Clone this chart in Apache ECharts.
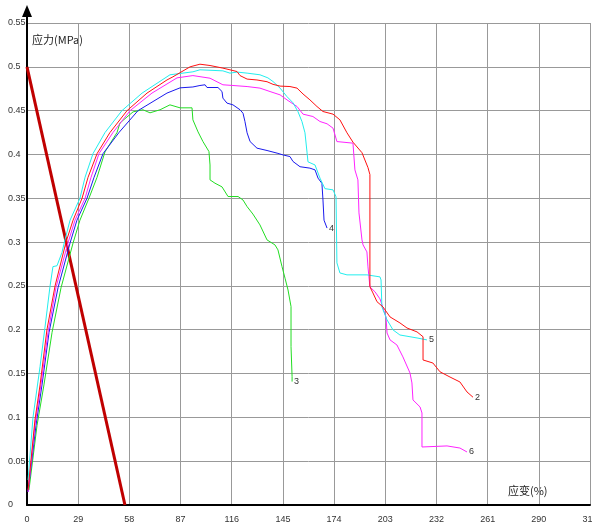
<!DOCTYPE html>
<html>
<head>
<meta charset="utf-8">
<script src="https://cdn.jsdelivr.net/npm/echarts@6/dist/echarts.min.js"></script>
<style>
html,body{margin:0;padding:0;background:#fff;}
#chart{width:592px;height:524px;}
</style>
</head>
<body>
<div id="chart"></div>
<script>
// 应力-应变 曲线
var xTicks = [0, 29, 58, 87, 116, 145, 174, 203, 232, 261, 290, 319];

var lineX = [0, 55.5];
var lineY = [0.5, 0];

var c2x = [0.6, 4.5, 7.4, 11.3, 15.9, 22.1, 26.1, 31.2, 34.6, 39.7, 47, 56.7, 68, 79.3, 82.7, 92.4, 98, 103.7, 111, 115, 119, 120.7, 124.7, 130.3, 136, 139.4, 143.4, 149, 153, 156.4, 160.3, 164.3, 167.7, 173.4, 177.3, 181.3, 184.7, 189.8, 193.2, 194.3, 194.3, 196, 198.3, 201.7, 205.7, 211.3, 215.3, 221, 224.4, 224.4, 230, 234, 239.7, 245.3, 249.3, 252.7];
var c2y = [0.017, 0.097, 0.137, 0.2, 0.25, 0.3, 0.325, 0.35, 0.374, 0.401, 0.425, 0.45, 0.47, 0.485, 0.4886, 0.5, 0.503, 0.5015, 0.4985, 0.4966, 0.4946, 0.49, 0.486, 0.485, 0.483, 0.48, 0.478, 0.4775, 0.4757, 0.469, 0.4623, 0.4547, 0.449, 0.446, 0.4395, 0.4247, 0.414, 0.402, 0.385, 0.377, 0.249, 0.242, 0.232, 0.226, 0.2146, 0.2078, 0.202, 0.1975, 0.192, 0.1655, 0.162, 0.152, 0.146, 0.1404, 0.129, 0.123];

var c3x = [1.1, 5.7, 9.6, 14.2, 19.3, 26.1, 30, 35.1, 39.7, 44.2, 51, 52.7, 60.1, 65.7, 69.7, 75.4, 81, 86.7, 93.5, 94, 96.9, 99.7, 103.1, 103.7, 103.7, 106.5, 110.5, 113.9, 119.6, 122.4, 124.7, 128, 132, 136, 140.5, 142.2, 144.5, 146.2, 147.9, 149.6, 149.6, 150.2, 150.2];
var c3y = [0.017, 0.091, 0.137, 0.197, 0.248, 0.299, 0.325, 0.35, 0.374, 0.403, 0.425, 0.436, 0.4486, 0.451, 0.4475, 0.451, 0.4566, 0.4532, 0.4532, 0.4395, 0.4258, 0.4147, 0.4033, 0.388, 0.371, 0.3672, 0.363, 0.352, 0.352, 0.348, 0.3405, 0.332, 0.3196, 0.3025, 0.2968, 0.2911, 0.272, 0.2588, 0.2454, 0.2264, 0.1807, 0.1465, 0.1408];

var c4x = [0.6, 5.1, 8.5, 12.5, 17.6, 24.4, 28.3, 34, 38, 43.1, 52.1, 62.9, 79.3, 86.7, 94, 98, 100.9, 102, 108.2, 110.5, 111, 113.3, 116.7, 120.7, 122.4, 123.5, 124.7, 126.4, 130.3, 136, 141.7, 145, 149, 150.7, 154.7, 160.3, 163.2, 164.9, 167.1, 167.7, 168.3, 170];
var c4y = [0.015, 0.091, 0.137, 0.197, 0.248, 0.299, 0.325, 0.35, 0.374, 0.401, 0.425, 0.45, 0.47, 0.476, 0.477, 0.4787, 0.4795, 0.4764, 0.4764, 0.4718, 0.4643, 0.4586, 0.4566, 0.451, 0.447, 0.4375, 0.4247, 0.4147, 0.4072, 0.4045, 0.4015, 0.3995, 0.3976, 0.392, 0.386, 0.3844, 0.3824, 0.373, 0.367, 0.348, 0.325, 0.316];

var c5x = [0.6, 3.4, 7.4, 10.2, 13, 14.7, 17, 19.8, 21.5, 24.4, 30, 32.9, 37.4, 44.2, 53.8, 65.2, 81, 94, 98, 111, 115, 119, 124.7, 132, 136.5, 139.4, 143.4, 147.3, 150.7, 153.5, 155.8, 157.5, 158.7, 159.2, 163.2, 166, 168.8, 173.4, 175.1, 175.6, 177.3, 181.3, 192.6, 200, 200.6, 201.1, 204, 207.4, 211.3, 221, 226.6];
var c5y = [0.0285, 0.1, 0.158, 0.203, 0.249, 0.272, 0.273, 0.288, 0.3025, 0.325, 0.35, 0.374, 0.401, 0.425, 0.45, 0.47, 0.4909, 0.4943, 0.4966, 0.4954, 0.4928, 0.494, 0.4928, 0.4909, 0.4874, 0.4832, 0.4757, 0.466, 0.459, 0.449, 0.4375, 0.4247, 0.4018, 0.3916, 0.388, 0.373, 0.361, 0.3596, 0.3516, 0.2763, 0.2648, 0.2626, 0.2626, 0.2603, 0.2568, 0.226, 0.2112, 0.1998, 0.194, 0.1906, 0.1884];

var c6x = [0.6, 4.5, 7.9, 11.9, 16.4, 23.2, 27.2, 32.9, 36.3, 40.8, 48.7, 58.4, 70.8, 85, 94, 103.7, 111, 116.7, 124.7, 132, 137.7, 143.4, 147.3, 153, 156.4, 162, 166, 170, 173.4, 175.6, 184.7, 185.8, 187.5, 188.1, 189.8, 190.4, 192.6, 193.2, 194.3, 197.2, 200, 201.7, 203.4, 204, 205.7, 209.6, 213, 217, 218.1, 218.7, 222.7, 223.8, 223.8, 238, 245.3, 249.3];
var c6y = [0.015, 0.091, 0.137, 0.197, 0.248, 0.299, 0.325, 0.35, 0.374, 0.401, 0.425, 0.45, 0.47, 0.4874, 0.49, 0.487, 0.4795, 0.4787, 0.4775, 0.4757, 0.4718, 0.468, 0.4623, 0.4547, 0.446, 0.4433, 0.4376, 0.435, 0.43, 0.4147, 0.4129, 0.3824, 0.371, 0.3333, 0.3025, 0.2968, 0.2888, 0.2717, 0.2489, 0.2432, 0.2352, 0.2249, 0.2146, 0.1963, 0.1884, 0.1826, 0.169, 0.1507, 0.1393, 0.1199, 0.1119, 0.105, 0.0662, 0.0674, 0.065, 0.0605];

function zip(xs, ys) {
    var out = [];
    for (var i = 0; i < xs.length; i++) out.push([xs[i], ys[i]]);
    return out;
}

function curve(name, xs, ys, color) {
    return {
        name: name,
        type: 'line',
        data: zip(xs, ys),
        symbol: 'none',
        lineStyle: { color: color, width: 1 },
        endLabel: {
            show: true,
            formatter: name,
            color: '#333',
            fontSize: 9,
            distance: 2
        }
    };
}

var chartDom = document.getElementById('chart');
var myChart = echarts.init(chartDom);
var option = {
    animation: false,
    backgroundColor: '#fff',
    grid: { left: 27, right: 2, top: 23, bottom: 19, containLabel: false, outerBoundsMode: 'none' },
    xAxis: {
        type: 'value',
        min: 0,
        max: 319,
        interval: 29,
        axisLine: { lineStyle: { color: '#000', width: 2 } },
        axisTick: { show: false },
        axisLabel: { color: '#333', fontSize: 9, margin: 10, fontFamily: 'Liberation Sans' },
        splitLine: { show: true, lineStyle: { color: '#999', width: 1 } }
    },
    yAxis: {
        type: 'value',
        min: 0,
        max: 0.55,
        interval: 0.05,
        axisLine: { show: true, lineStyle: { color: '#000', width: 2 } },
        axisTick: { show: false },
        axisLabel: { color: '#333', fontSize: 9, align: 'left', margin: 19, fontFamily: 'Liberation Sans' },
        splitLine: { show: true, lineStyle: { color: '#999', width: 1 } }
    },
    graphic: [
        { type: 'line', shape: { x1: 27, y1: 24, x2: 27, y2: 14 }, style: { stroke: '#000', lineWidth: 2 } },
        { type: 'polygon', shape: { points: [[27, 5], [22, 17], [32, 17]] }, style: { fill: '#000' } },
        { type: 'text', left: 32, top: 34, style: { text: '应力(MPa)', fill: '#222', font: '11px "Noto Sans CJK SC"' } },
        { type: 'text', left: 508, top: 485, style: { text: '应变(%)', fill: '#222', font: '11px "Noto Sans CJK SC"' } }
    ],
    series: [
        {
            type: 'line',
            data: zip(lineX, lineY),
            symbol: 'none',
            lineStyle: { color: '#c00000', width: 3 }
        },
        curve('3', c3x, c3y, '#22dd22'),
        curve('4', c4x, c4y, '#1a1aee'),
        curve('6', c6x, c6y, '#ff22ff'),
        curve('5', c5x, c5y, '#22eeee'),
        curve('2', c2x, c2y, '#ff1111')
    ]
};
myChart.setOption(option);
</script>
</body>
</html>
